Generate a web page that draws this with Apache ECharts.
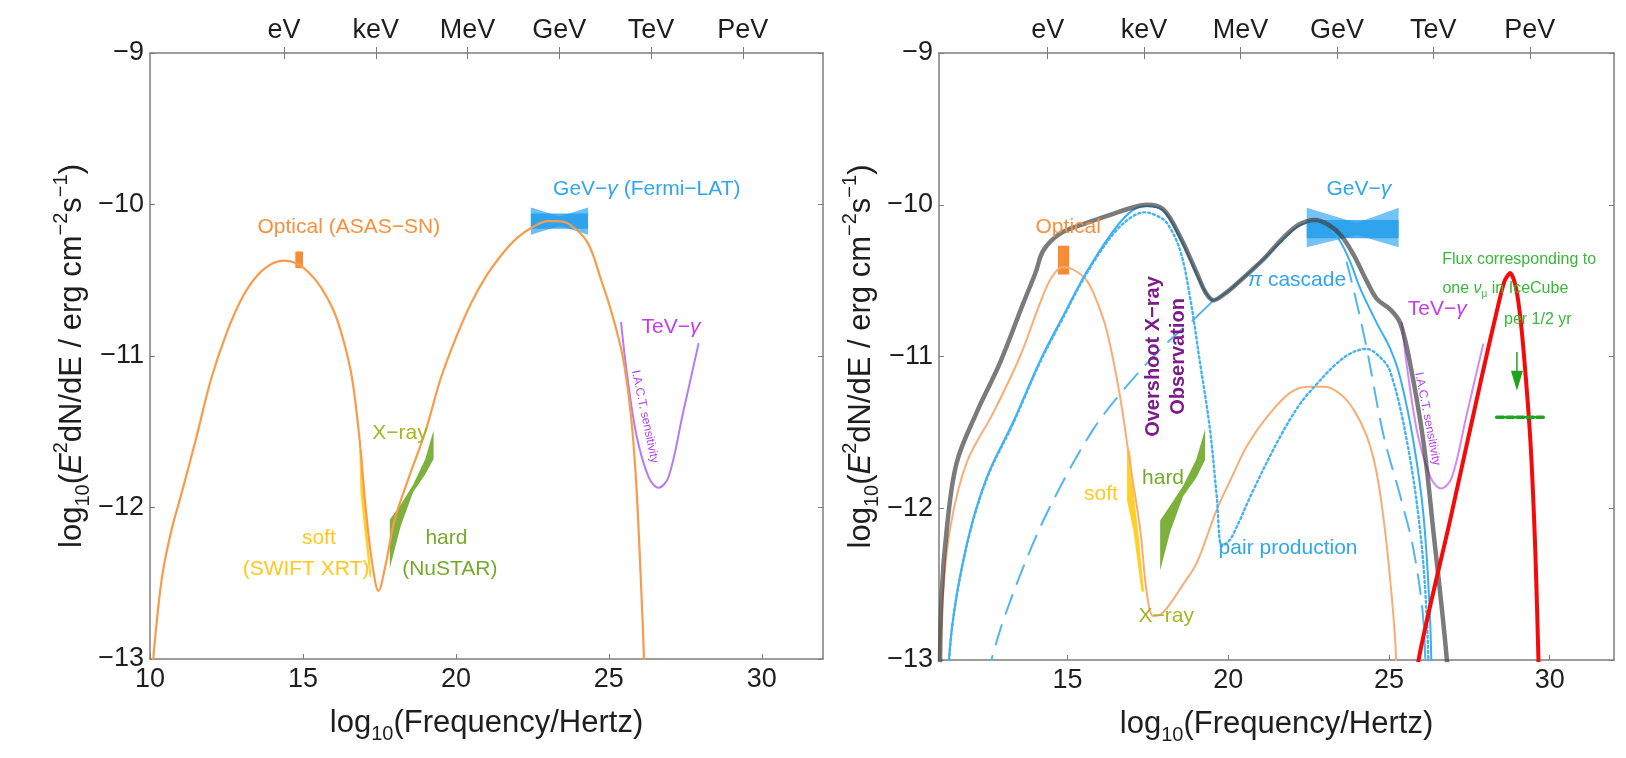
<!DOCTYPE html>
<html>
<head>
<meta charset="utf-8">
<script src="https://cdn.jsdelivr.net/npm/echarts@6/dist/echarts.min.js"></script>
<style>
  html, body { margin: 0; padding: 0; background: #fff; }
  #chart { width: 1626px; height: 758px; }
</style>
</head>
<body>
<div id="chart"></div>
<script>
// ---- data (log10 frequency, log10 flux) ----
var leftSed = [[10.0,-13.3],[10.15,-12.9],[10.4,-12.45],[10.7,-12.15],[11.0,-11.93],[11.5,-11.55],[12.0,-11.15],[12.5,-10.85],[13.0,-10.62],[13.5,-10.47],[14.0,-10.39],[14.4,-10.37],[14.8,-10.39],[15.2,-10.45],[15.6,-10.55],[16.0,-10.7],[16.3,-10.88],[16.6,-11.14],[16.85,-11.55],[17.05,-12.0],[17.25,-12.35],[17.47,-12.55],[17.7,-12.38],[18.0,-12.08],[18.5,-11.78],[19.0,-11.5],[19.5,-11.15],[20.0,-10.88],[20.5,-10.65],[21.0,-10.47],[21.5,-10.33],[22.0,-10.22],[22.5,-10.15],[23.0,-10.11],[23.3,-10.11],[23.7,-10.13],[24.3,-10.25],[24.75,-10.5],[25.1,-10.72],[25.45,-11.0],[25.7,-11.35],[25.85,-11.7],[25.95,-12.05],[26.05,-12.5],[26.15,-13.0],[26.18,-13.3]];
var iactSensitivity = [[25.4,-10.78],[25.58,-11.1],[25.9,-11.52],[26.3,-11.8],[26.62,-11.87],[26.95,-11.8],[27.42,-11.38],[27.93,-10.92]];
var leftOpticalBox = [[14.75,-10.31],[15.0,-10.31],[15.0,-10.42],[14.75,-10.42]];
var leftFermiBowtie = [[22.45,-10.02],[23.4,-10.08],[24.32,-10.02],[24.32,-10.2],[23.4,-10.14],[22.45,-10.2]];
var leftFermiBand = [[22.45,-10.06],[24.32,-10.06],[24.32,-10.16],[22.45,-10.16]];
var leftSoftXray = [[16.84,-11.62],[16.92,-11.62],[17.02,-11.95],[17.12,-12.2],[17.24,-12.46],[17.18,-12.46],[16.98,-12.1],[16.88,-11.9]];
var leftHardXray = [[17.84,-12.08],[18.2,-11.98],[18.6,-11.85],[19.0,-11.68],[19.27,-11.49],[19.27,-11.68],[19.0,-11.78],[18.6,-11.9],[18.2,-12.12],[17.84,-12.4]];

var rightLeptonic = [[11.0,-13.3],[11.1,-12.65],[11.34,-12.14],[11.86,-11.7],[12.69,-11.37],[13.52,-11.0],[14.14,-10.65],[14.5,-10.48],[14.85,-10.41],[15.2,-10.43],[15.6,-10.5],[15.9,-10.63],[16.22,-10.83],[16.63,-11.26],[16.94,-11.7],[17.26,-12.14],[17.46,-12.55],[17.67,-12.71],[17.9,-12.7],[18.19,-12.63],[18.6,-12.5],[19.02,-12.36],[19.64,-12.01],[20.1,-11.8],[20.58,-11.59],[21.2,-11.4],[21.92,-11.24],[22.5,-11.2],[23.0,-11.2],[23.5,-11.25],[23.9,-11.35],[24.3,-11.52],[24.6,-11.75],[24.85,-12.1],[25.05,-12.5],[25.2,-12.9],[25.25,-13.3]];
var rightTotal = [[11.02,-13.3],[11.08,-12.58],[11.24,-12.14],[11.55,-11.7],[12.17,-11.37],[12.9,-11.04],[13.62,-10.65],[14.0,-10.45],[14.25,-10.3],[14.77,-10.19],[15.6,-10.12],[16.42,-10.06],[17.0,-10.02],[17.46,-10.0],[17.98,-10.03],[18.5,-10.21],[19.02,-10.45],[19.3,-10.58],[19.54,-10.63],[19.8,-10.6],[20.16,-10.54],[21.09,-10.36],[21.7,-10.22],[22.2,-10.13],[22.7,-10.1],[23.1,-10.13],[23.5,-10.2],[23.9,-10.33],[24.3,-10.5],[24.62,-10.62],[25.04,-10.69],[25.35,-10.78],[25.66,-11.05],[26.07,-11.56],[26.38,-12.15],[26.8,-13.0],[26.85,-13.3]];
var rightHadronic = [[11.24,-13.3],[11.4,-12.79],[11.86,-12.24],[12.48,-11.8],[13.31,-11.43],[14.14,-11.03],[14.87,-10.73],[15.6,-10.44],[16.43,-10.17],[17.0,-10.04],[17.46,-10.01],[17.98,-10.04],[18.5,-10.22],[19.02,-10.46],[19.3,-10.58],[19.54,-10.63],[19.8,-10.6],[20.16,-10.54],[21.09,-10.36],[21.7,-10.23],[22.2,-10.14],[22.7,-10.11],[23.1,-10.14],[23.48,-10.24],[23.8,-10.38],[24.1,-10.55],[24.62,-10.78],[25.04,-10.95],[25.35,-11.14],[25.76,-11.56],[26.07,-12.04],[26.28,-12.74],[26.33,-13.3]];
var rightPairDotted = [[11.25,-13.3],[11.4,-12.8],[11.86,-12.25],[12.48,-11.81],[13.31,-11.44],[14.14,-11.04],[14.87,-10.74],[15.6,-10.45],[16.43,-10.19],[17.0,-10.08],[17.4,-10.05],[17.75,-10.07],[18.09,-10.12],[18.5,-10.3],[18.81,-10.61],[19.12,-11.04],[19.43,-11.48],[19.64,-11.92],[19.8,-12.25],[20.0,-12.22],[20.16,-12.17],[20.78,-11.88],[21.61,-11.53],[22.24,-11.31],[22.76,-11.18],[23.3,-11.06],[23.8,-10.98],[24.3,-10.95],[24.7,-11.0],[25.04,-11.1],[25.56,-11.56],[25.97,-12.15],[26.18,-12.74],[26.25,-13.3]];
var rightPiDashedLow = [[12.5,-13.1],[13.0,-12.74],[13.93,-12.23],[14.77,-11.86],[15.8,-11.48],[16.74,-11.22],[17.67,-11.0],[18.5,-10.83],[18.91,-10.76]];
var rightPiJoin = [[18.91,-10.76],[19.54,-10.63]];
var rightPiDashedHigh = [[23.69,-10.38],[24.0,-10.65],[24.31,-10.95],[24.83,-11.52],[25.35,-11.92],[25.76,-12.27],[26.07,-12.74],[26.15,-13.3]];
var neutrinoFlux = [[25.85,-13.3],[25.92,-13.0],[26.9,-12.08],[27.9,-11.12],[28.4,-10.66],[28.6,-10.5],[28.77,-10.45],[28.92,-10.52],[29.05,-10.68],[29.19,-10.97],[29.4,-11.56],[29.55,-12.27],[29.65,-13.0],[29.68,-13.3]];
var rightOpticalBox = [[14.7,-10.27],[15.05,-10.27],[15.05,-10.46],[14.7,-10.46]];
var rightFermiBowtie = [[22.44,-10.02],[24.0,-10.12],[25.3,-10.02],[25.3,-10.28],[24.0,-10.2],[22.44,-10.28]];
var rightFermiBand = [[22.44,-10.1],[25.3,-10.1],[25.3,-10.22],[22.44,-10.22]];
var rightSoftXray = [[16.85,-11.62],[16.95,-11.62],[17.1,-11.98],[17.22,-12.2],[17.38,-12.55],[17.3,-12.55],[17.05,-12.15],[16.85,-11.95]];
var rightHardXray = [[17.88,-12.08],[18.2,-11.98],[18.6,-11.85],[19.0,-11.68],[19.28,-11.48],[19.28,-11.68],[19.0,-11.8],[18.6,-11.92],[18.2,-12.15],[17.88,-12.41]];
var icecubeArrow = [[28.98,-10.97],[28.98,-11.16]];
var icecubeLimit = [[28.35,-11.4],[29.8,-11.4]];

// ---- axes ----
var xTicksLeft = [10, 15, 20, 25, 30];
var xTicksRight = [15, 20, 25, 30];
var energyTicks = [14.38, 17.38, 20.38, 23.38, 26.38, 29.38];
var energyLabels = ['eV', 'keV', 'MeV', 'GeV', 'TeV', 'PeV'];

// ---- annotations ----
var leftLabels = [
  { text: 'Optical (ASAS−SN)', x: 16.5, y: -10.15, kind: 'orange' },
  { text: 'GeV−{ig|γ} (Fermi−LAT)', x: 26.24, y: -9.9, kind: 'blue' },
  { text: 'TeV−{ip|γ}', x: 27.03, y: -10.81, kind: 'purple' },
  { text: 'I.A.C.T. sensitivity', x: 26.18, y: -11.4, kind: 'iact', rotate: -78 },
  { text: 'X−ray', x: 18.17, y: -11.51, kind: 'olive' },
  { text: 'soft', x: 15.52, y: -12.2, kind: 'yellow' },
  { text: '(SWIFT XRT)', x: 15.1, y: -12.41, kind: 'yellow' },
  { text: 'hard', x: 19.69, y: -12.2, kind: 'green' },
  { text: '(NuSTAR)', x: 19.8, y: -12.41, kind: 'green' }
];
var rightLabels = [
  { text: 'GeV−{ig|γ}', x: 24.06, y: -9.9, kind: 'blue' },
  { text: 'Optical', x: 15.02, y: -10.15, kind: 'orange' },
  { text: '{ib|π} cascade', x: 22.14, y: -10.5, kind: 'blue' },
  { text: 'Overshoot X−ray', x: 17.66, y: -11.0, kind: 'over', rotate: 90 },
  { text: 'Observation', x: 18.44, y: -11.0, kind: 'over', rotate: 90 },
  { text: 'soft', x: 16.04, y: -11.91, kind: 'yellow' },
  { text: 'hard', x: 17.97, y: -11.8, kind: 'green' },
  { text: 'X−ray', x: 18.07, y: -12.71, kind: 'olive' },
  { text: 'pair production', x: 21.86, y: -12.26, kind: 'blue' },
  { text: 'TeV−{ip|γ}', x: 26.5, y: -10.69, kind: 'purple' },
  { text: 'I.A.C.T. sensitivity', x: 26.2, y: -11.41, kind: 'iact', rotate: -79 },
  { text: 'Flux corresponding to', x: 29.05, y: -10.36, kind: 'ice' },
  { text: 'one {in|ν}{su|μ} in IceCube', x: 28.62, y: -10.55, kind: 'ice' },
  { text: 'per 1/2 yr', x: 29.63, y: -10.76, kind: 'ice' }
];

var FONT = '"Liberation Sans", Arial, sans-serif';
var AXIS_COLOR = '#7d7d7d';
var TEXT_COLOR = '#1e1e1e';

var labelStyles = {
  orange: { color: '#f7913d', size: 21 },
  blue:   { color: '#2fa6ee', size: 21 },
  purple: { color: '#c23cf2', size: 21 },
  iact:   { color: '#b541ee', size: 12 },
  olive:  { color: '#a9b322', size: 21 },
  yellow: { color: '#ffc81e', size: 21 },
  green:  { color: '#74ab2c', size: 21 },
  over:   { color: '#7d1b8b', size: 20, weight: 'bold' },
  ice:    { color: '#37b837', size: 16 }
};

function richFor(s) {
  return {
    ig: { fontStyle: 'italic', color: s.color, fontSize: s.size, fontFamily: FONT },
    ip: { fontStyle: 'italic', color: s.color, fontSize: s.size, fontFamily: FONT },
    ib: { fontStyle: 'italic', color: s.color, fontSize: s.size, fontFamily: FONT },
    in: { fontStyle: 'italic', color: s.color, fontSize: s.size, fontFamily: FONT, lineHeight: 22 },
    su: { color: s.color, fontSize: 10, fontFamily: FONT, verticalAlign: 'bottom', lineHeight: 10 }
  };
}

function labelSeries(items, p) {
  return {
    type: 'scatter', xAxisIndex: p * 3, yAxisIndex: p * 2,
    symbolSize: 1, itemStyle: { color: 'rgba(0,0,0,0)' }, silent: true, z: 20,
    data: items.map(function (it) {
      var s = labelStyles[it.kind];
      return {
        value: [it.x, it.y],
        label: {
          show: true, position: 'inside', formatter: it.text, opacity: 1,
          color: s.color, fontSize: s.size, fontWeight: s.weight || 'normal',
          fontFamily: FONT, rotate: it.rotate || 0, lineHeight: 22, rich: richFor(s)
        }
      };
    })
  };
}

function lineSeries(data, p, color, width, type, z, smooth) {
  return {
    type: 'line', xAxisIndex: p * 3, yAxisIndex: p * 2, data: data,
    symbol: 'none', smooth: smooth === undefined ? 0.35 : smooth, silent: true, z: z || 5,
    lineStyle: { color: color, width: width, type: type || 'solid', cap: 'round' }
  };
}

function polySeries(points, p, color, opacity, z) {
  return {
    type: 'custom', xAxisIndex: p * 3, yAxisIndex: p * 2, data: points, silent: true,
    z: z || 3, clip: true, encode: { x: 0, y: 1 },
    renderItem: function (params, api) {
      if (params.dataIndex !== 0) return null;
      return {
        type: 'polygon',
        shape: { points: points.map(function (pt) { return api.coord(pt); }) },
        style: { fill: color, opacity: opacity }
      };
    }
  };
}

var nameRich = {
  t: { fontSize: 31, color: TEXT_COLOR, fontFamily: FONT, lineHeight: 42 },
  it: { fontSize: 31, color: TEXT_COLOR, fontFamily: FONT, lineHeight: 42, fontStyle: 'italic' },
  s: { fontSize: 20, color: TEXT_COLOR, fontFamily: FONT, lineHeight: 20, verticalAlign: 'bottom' },
  p: { fontSize: 20, color: TEXT_COLOR, fontFamily: FONT, lineHeight: 20, verticalAlign: 'top' }
};

function bottomAxis(p, ticks) {
  return {
    type: 'value', gridIndex: p, position: 'bottom', min: p === 0 ? 10 : 11, max: 32,
    name: '{t|log}{s|10}{t|(Frequency/Hertz)}', nameLocation: 'middle', nameGap: 43,
    nameTextStyle: { rich: nameRich },
    axisLine: { show: true, lineStyle: { color: AXIS_COLOR, width: 1.5 } },
    axisTick: { show: true, inside: true, length: 5, customValues: ticks, lineStyle: { color: AXIS_COLOR } },
    axisLabel: { customValues: ticks, fontSize: 27, color: TEXT_COLOR, fontFamily: FONT, margin: 7 },
    splitLine: { show: false }
  };
}

function energyFormatter(v) {
  for (var i = 0; i < energyTicks.length; i++) {
    if (Math.abs(energyTicks[i] - v) < 0.01) return energyLabels[i];
  }
  return '';
}

function topAxis(p, inner) {
  return {
    type: 'value', gridIndex: p, position: 'top', min: p === 0 ? 10 : 11, max: 32,
    axisLine: { show: !inner, lineStyle: { color: AXIS_COLOR, width: 1.5 } },
    axisTick: { show: true, inside: inner, length: 6, customValues: energyTicks, lineStyle: { color: AXIS_COLOR } },
    axisLabel: inner ? { show: false } : { customValues: energyTicks, formatter: energyFormatter, fontSize: 27, color: TEXT_COLOR, fontFamily: FONT, margin: 9 },
    splitLine: { show: false }
  };
}

function leftAxis(p) {
  return {
    type: 'value', gridIndex: p, position: 'left', min: -13, max: -9, interval: 1,
    name: '{t|log}{s|10}{t|(}{it|E}{p|2}{t|dN/dE / erg cm}{p|−2}{t|s}{p|−1}{t|)}',
    nameLocation: 'middle', nameRotate: 90, nameGap: 57,
    nameTextStyle: { rich: nameRich },
    axisLine: { show: true, lineStyle: { color: AXIS_COLOR, width: 1.5 } },
    axisTick: { show: true, inside: true, length: 5, lineStyle: { color: AXIS_COLOR } },
    axisLabel: { fontSize: 27, color: TEXT_COLOR, fontFamily: FONT, margin: 6,
      formatter: function (v) { return String(v).replace('-', '−'); } },
    splitLine: { show: false }
  };
}

function rightMirrorAxis(p) {
  return {
    type: 'value', gridIndex: p, position: 'right', min: -13, max: -9, interval: 1,
    axisLine: { show: true, lineStyle: { color: AXIS_COLOR, width: 1.5 } },
    axisTick: { show: true, inside: true, length: 5, lineStyle: { color: AXIS_COLOR } },
    axisLabel: { show: false }, splitLine: { show: false }
  };
}

var arrowData = [
  { value: icecubeArrow[0], symbol: 'none' },
  { value: icecubeArrow[1], symbol: 'triangle', symbolSize: [12, 20], symbolRotate: 180 }
];

var option = {
  backgroundColor: '#fff',
  animation: false,
  textStyle: { fontFamily: FONT },
  grid: [
    { left: 150, top: 53, width: 673, height: 606 },
    { left: 939, top: 53, width: 675, height: 607 }
  ],
  xAxis: [bottomAxis(0, xTicksLeft), topAxis(0, false), topAxis(0, true),
          bottomAxis(1, xTicksRight), topAxis(1, false), topAxis(1, true)],
  yAxis: [leftAxis(0), rightMirrorAxis(0), leftAxis(1), rightMirrorAxis(1)],
  series: [
    // left panel
    polySeries(leftFermiBowtie, 0, '#38a9f2', 0.75, 2),
    polySeries(leftFermiBand, 0, '#1f9beb', 0.8, 2),
    polySeries(leftOpticalBox, 0, '#f7862a', 0.95, 2),
    polySeries(leftSoftXray, 0, '#ffcc11', 0.9, 2),
    polySeries(leftHardXray, 0, '#6fa826', 0.9, 2),
    lineSeries(iactSensitivity, 0, '#b67af5', 2, 'solid', 4),
    lineSeries(leftSed, 0, '#f99b4c', 2.2, 'solid', 5),
    labelSeries(leftLabels, 0),
    // right panel
    polySeries(rightFermiBowtie, 1, '#38a9f2', 0.7, 2),
    polySeries(rightFermiBand, 1, '#1f9beb', 0.8, 2),
    polySeries(rightOpticalBox, 1, '#f7862a', 0.95, 2),
    polySeries(rightSoftXray, 1, '#ffcc11', 0.9, 2),
    polySeries(rightHardXray, 1, '#6fa826', 0.9, 2),
    lineSeries(rightLeptonic, 1, '#f9ac74', 2, 'solid', 4),
    lineSeries(rightHadronic, 1, '#3aaef2', 2, 'solid', 4),
    lineSeries(rightPairDotted, 1, '#45b2f3', 2.4, [2, 3], 5),
    lineSeries(rightPiDashedLow, 1, '#52b5f2', 2, [20, 12], 4),
    lineSeries(rightPiJoin, 1, '#52b5f2', 2, 'solid', 4, false),
    lineSeries(rightPiDashedHigh, 1, '#52b5f2', 2, [20, 12], 4),
    lineSeries(iactSensitivity, 1, '#d488f7', 2, 'solid', 5),
    lineSeries(rightTotal, 1, 'rgba(60,60,60,0.68)', 4.5, 'solid', 6),
    lineSeries(neutrinoFlux, 1, '#f50a0a', 4, 'solid', 7, 0.25),
    lineSeries(icecubeLimit, 1, '#1fa31f', 3.5, [7, 3], 7, false),
    {
      type: 'line', xAxisIndex: 3, yAxisIndex: 2, data: arrowData, silent: true, z: 7,
      symbol: 'none', showSymbol: true, itemStyle: { color: '#1fa31f' },
      lineStyle: { color: '#1fa31f', width: 1.5 }
    },
    labelSeries(rightLabels, 1)
  ]
};

var chart = echarts.init(document.getElementById('chart'), null, { renderer: 'canvas' });
chart.setOption(option);
</script>
</body>
</html>
